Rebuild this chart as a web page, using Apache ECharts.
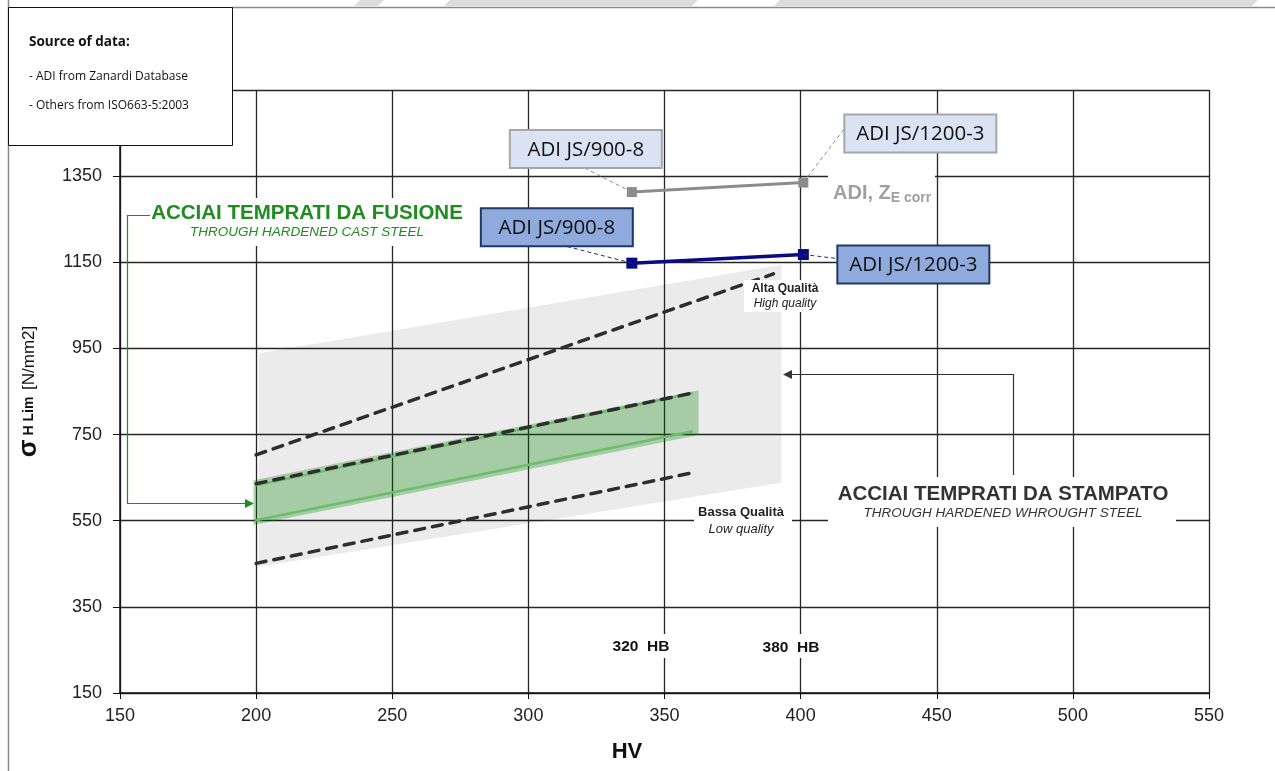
<!DOCTYPE html>
<html>
<head>
<meta charset="utf-8">
<script src="https://cdn.jsdelivr.net/npm/echarts@6/dist/echarts.min.js"></script>
<style>
html, body { margin: 0; padding: 0; background: #fff; }
#chart { width: 1275px; height: 771px; }
</style>
</head>
<body>
<div id="chart"></div>
<script>
// HV on x, sigma H lim [N/mm2] on y
const adiGrades = ['ADI JS/900-8', 'ADI JS/1200-3']
const adiHV = [338, 401]
const adiZeCorr = [1313, 1335]
const adiSigma = [1148, 1168]
const highQuality = [[200, 703], [390, 1123]]
const mediumQuality = [[200, 636], [360, 846]]
const lowQuality = [[200, 451], [360, 661]]
const castUpper = [[200, 632], [360, 846]]
const castLower = [[200, 551], [360, 757]]
const wroughtArea = [[201, 939], [393, 1144], [393, 638], [201, 443]]
const castArea = [[199, 644], [362.5, 853], [362.5, 749], [199, 540]]

const FONT = 'Liberation Sans'
const chart = echarts.init(document.getElementById('chart'))

function areaSeries (points, fill) {
  return {
    type: 'custom',
    silent: true,
    encode: { x: 0, y: 1 },
    data: points,
    z: 1,
    renderItem (params, api) {
      if (params.dataIndex !== 0) return
      return {
        type: 'polygon',
        shape: { points: points.map(p => api.coord(p)) },
        style: { fill: fill }
      }
    }
  }
}

function lineSeries (data, color, width, dashed) {
  return {
    type: 'line',
    data: data,
    symbol: 'none',
    silent: true,
    z: dashed ? 4 : 3,
    lineStyle: {
      color: color,
      width: width,
      type: dashed ? [10, 8] : 'solid',
      cap: 'round'
    }
  }
}

chart.setOption({
  animation: false,
  grid: { left: 120, right: 66, top: 90, bottom: 78 },
  xAxis: {
    type: 'value',
    min: 150,
    max: 550,
    interval: 50,
    axisLine: { lineStyle: { color: '#111', width: 1.5 } },
    axisTick: { show: true, length: 6, lineStyle: { color: '#111' } },
    axisLabel: { color: '#222', fontSize: 18, fontFamily: FONT, margin: 14 },
    splitLine: { lineStyle: { color: '#262626', width: 1.3 } }
  },
  yAxis: {
    type: 'value',
    min: 150,
    max: 1550,
    interval: 200,
    name: '{s|σ}{h| H Lim}  {u|[N/mm2]}',
    nameLocation: 'middle',
    nameRotate: 90,
    nameGap: 78,
    nameTextStyle: {
      rich: {
        s: { fontSize: 26, fontWeight: 'bold', color: '#111', fontFamily: FONT },
        h: { fontSize: 14, fontWeight: 'bold', color: '#111', fontFamily: FONT },
        u: { fontSize: 17, color: '#111', fontFamily: FONT }
      }
    },
    axisLine: { show: true, lineStyle: { color: '#111', width: 1.5 } },
    axisTick: { show: true, length: 7, lineStyle: { color: '#111' } },
    axisLabel: { color: '#222', fontSize: 18, fontFamily: FONT, margin: 18, formatter: v => String(v) },
    splitLine: { lineStyle: { color: '#262626', width: 1.3 } }
  },
  series: [
    areaSeries(wroughtArea, 'rgba(0,0,0,0.08)'),
    areaSeries(castArea, 'rgba(0,128,0,0.3)'),
    lineSeries(castUpper, '#6cbd6c', 2.5, false),
    lineSeries(castLower, '#6cbd6c', 2.5, false),
    lineSeries(highQuality, '#2e2e2e', 3.5, true),
    lineSeries(mediumQuality, '#2e2e2e', 3.5, true),
    lineSeries(lowQuality, '#2e2e2e', 3.5, true),
    {
      name: 'ADI, ZE corr',
      type: 'line',
      data: adiHV.map((x, i) => [x, adiZeCorr[i]]),
      symbol: 'rect',
      symbolSize: 10,
      z: 6,
      lineStyle: { color: '#8c8c8c', width: 3 },
      itemStyle: { color: '#8c8c8c' }
    },
    {
      name: 'ADI',
      type: 'line',
      data: adiHV.map((x, i) => [x, adiSigma[i]]),
      symbol: 'rect',
      symbolSize: 11,
      z: 6,
      lineStyle: { color: '#0a0a86', width: 3.5 },
      itemStyle: { color: '#0a0a86' }
    }
  ]
})

function whiteBox (x, y, w, h) {
  return { type: 'rect', z: 50, silent: true, shape: { x: x, y: y, width: w, height: h }, style: { fill: '#fff' } }
}
function label (x, y, text, size, opts) {
  return {
    type: 'text',
    z: 60,
    silent: true,
    x: x,
    y: y,
    style: Object.assign({
      text: text,
      fontSize: size,
      fontFamily: FONT,
      fill: '#222',
      align: 'center',
      verticalAlign: 'middle'
    }, opts || {})
  }
}

const toPx = p => chart.convertToPixel({ gridIndex: 0 }, p)
const elements = []

// top frame and watermark wedges
elements.push(
  { type: 'polygon', z: 1, silent: true, shape: { points: [[360, 0], [384, 0], [378, 6], [354, 6]] }, style: { fill: '#dcdcdc' } },
  { type: 'polygon', z: 1, silent: true, shape: { points: [[450, 0], [698, 0], [692, 6], [444, 6]] }, style: { fill: '#dcdcdc' } },
  { type: 'polygon', z: 1, silent: true, shape: { points: [[780, 0], [1258, 0], [1252, 6], [774, 6]] }, style: { fill: '#dcdcdc' } },
  { type: 'line', z: 2, silent: true, shape: { x1: 232, y1: 7.5, x2: 1275, y2: 7.5 }, style: { stroke: '#8a8a8a', lineWidth: 1.5 } },
  { type: 'line', z: 2, silent: true, shape: { x1: 8.5, y1: 0, x2: 8.5, y2: 771 }, style: { stroke: '#8a8a8a', lineWidth: 1.5 } }
)

// ADI labels with leader lines
const greyOffsets = [[-46, -43], [117, -49]]
const blueOffsets = [[-75, -36], [110, 10]]
adiGrades.forEach((g, i) => {
  const pg = toPx([adiHV[i], adiZeCorr[i]])
  const cg = [pg[0] + greyOffsets[i][0], pg[1] + greyOffsets[i][1]]
  const pb = toPx([adiHV[i], adiSigma[i]])
  const cb = [pb[0] + blueOffsets[i][0], pb[1] + blueOffsets[i][1]]
  const gEnd = i === 0 ? [cg[0] - 3, cg[1] + 18] : [cg[0] - 76, cg[1] - 5]
  const bEnd = i === 0 ? [cb[0] + 5, cb[1] + 18] : [cb[0] - 76, cb[1] - 6]
  elements.push(
    { type: 'line', z: 40, silent: true, shape: { x1: pg[0], y1: pg[1], x2: gEnd[0], y2: gEnd[1] }, style: { stroke: '#8c8c8c', lineWidth: 1, lineDash: [4, 3] } },
    { type: 'line', z: 40, silent: true, shape: { x1: pb[0], y1: pb[1], x2: bEnd[0], y2: bEnd[1] }, style: { stroke: '#1f2f6b', lineWidth: 1, lineDash: [4, 3] } },
    { type: 'rect', z: 55, silent: true, shape: { x: cg[0] - 76, y: cg[1] - 19, width: 152, height: 38 }, style: { fill: '#dae3f3', stroke: '#a6a6a6', lineWidth: 2 } },
    label(cg[0], cg[1] + 1, g, 20.5, { fontFamily: 'Open Sans', fill: '#111' }),
    { type: 'rect', z: 55, silent: true, shape: { x: cb[0] - 76, y: cb[1] - 19, width: 152, height: 38 }, style: { fill: '#8faadc', stroke: '#1f3864', lineWidth: 2 } },
    label(cb[0], cb[1] + 1, g, 20.5, { fontFamily: 'Open Sans', fill: '#111' })
  )
})

// ADI, ZE corr
elements.push(
  whiteBox(828, 172, 107, 34),
  label(833, 193, '{a|ADI, Z}{b|E corr}', 20, {
    align: 'left',
    rich: {
      a: { fontSize: 20, fontWeight: 'bold', fill: '#a0a0a0', fontFamily: FONT },
      b: { fontSize: 14, fontWeight: 'bold', fill: '#a0a0a0', fontFamily: FONT, padding: [10, 0, 0, 0] }
    }
  })
)

// cast steel title and arrow
elements.push(
  whiteBox(150, 198, 315, 48),
  label(307, 213, 'ACCIAI TEMPRATI DA FUSIONE', 20.5, { fontWeight: 'bold', fill: '#1e8c1e' }),
  label(307, 232, 'THROUGH HARDENED CAST STEEL', 13.5, { fontStyle: 'italic', fill: '#1e8c1e' }),
  { type: 'polyline', z: 45, silent: true, shape: { points: [[152, 215.5], [127.5, 215.5], [127.5, 503.5], [246, 503.5]] }, style: { stroke: '#1e8c1e', lineWidth: 1.2, fill: null } },
  { type: 'polygon', z: 45, silent: true, shape: { points: [[254, 503.5], [245, 499], [245, 508]] }, style: { fill: '#1e8c1e' } }
)

// wrought steel title and arrow
elements.push(
  whiteBox(828, 477, 348, 50),
  label(1003, 494, 'ACCIAI TEMPRATI DA STAMPATO', 20.5, { fontWeight: 'bold', fill: '#333' }),
  label(1003, 513, 'THROUGH HARDENED WHROUGHT STEEL', 13.5, { fontStyle: 'italic', fill: '#333' }),
  { type: 'polyline', z: 45, silent: true, shape: { points: [[1013.5, 475], [1013.5, 374.5], [791, 374.5]] }, style: { stroke: '#333', lineWidth: 1.2, fill: null } },
  { type: 'polygon', z: 45, silent: true, shape: { points: [[783, 374.5], [792, 370], [792, 379]] }, style: { fill: '#333' } }
)

// quality labels
elements.push(
  whiteBox(744, 280, 83, 32),
  label(785, 289, 'Alta Qualità', 12, { fontWeight: 'bold', fill: '#222' }),
  label(785, 304, 'High quality', 12, { fontStyle: 'italic', fill: '#222' }),
  whiteBox(694, 503, 98, 34),
  label(741, 512, 'Bassa Qualità', 13, { fontWeight: 'bold', fill: '#222' }),
  label(741, 529, 'Low quality', 13, { fontStyle: 'italic', fill: '#222' })
)

// HB marks
elements.push(
  whiteBox(610, 634, 64, 24),
  label(641, 647, '320  HB', 15.5, { fontWeight: 'bold', fill: '#111' }),
  whiteBox(760, 634, 64, 24),
  label(791, 648, '380  HB', 15.5, { fontWeight: 'bold', fill: '#111' })
)

// x axis title
elements.push(label(627, 752, 'HV', 22, { fontWeight: 'bold', fill: '#111' }))

// source box
elements.push(
  { type: 'rect', z: 100, silent: true, shape: { x: 8.5, y: 7.5, width: 224, height: 138 }, style: { fill: '#fff', stroke: '#111', lineWidth: 1 } },
  { type: 'text', z: 101, silent: true, x: 29, y: 42, style: { text: 'Source of data:', fontSize: 13.5, fontWeight: 'bold', fontFamily: 'Open Sans', fill: '#111', verticalAlign: 'middle' } },
  { type: 'text', z: 101, silent: true, x: 29, y: 77, style: { text: '- ADI from Zanardi Database', fontSize: 12, fontFamily: 'Open Sans', fill: '#111', verticalAlign: 'middle' } },
  { type: 'text', z: 101, silent: true, x: 29, y: 106, style: { text: '- Others from ISO663-5:2003', fontSize: 12, fontFamily: 'Open Sans', fill: '#111', verticalAlign: 'middle' } }
)

chart.setOption({ graphic: { elements: elements } })
</script>
</body>
</html>
